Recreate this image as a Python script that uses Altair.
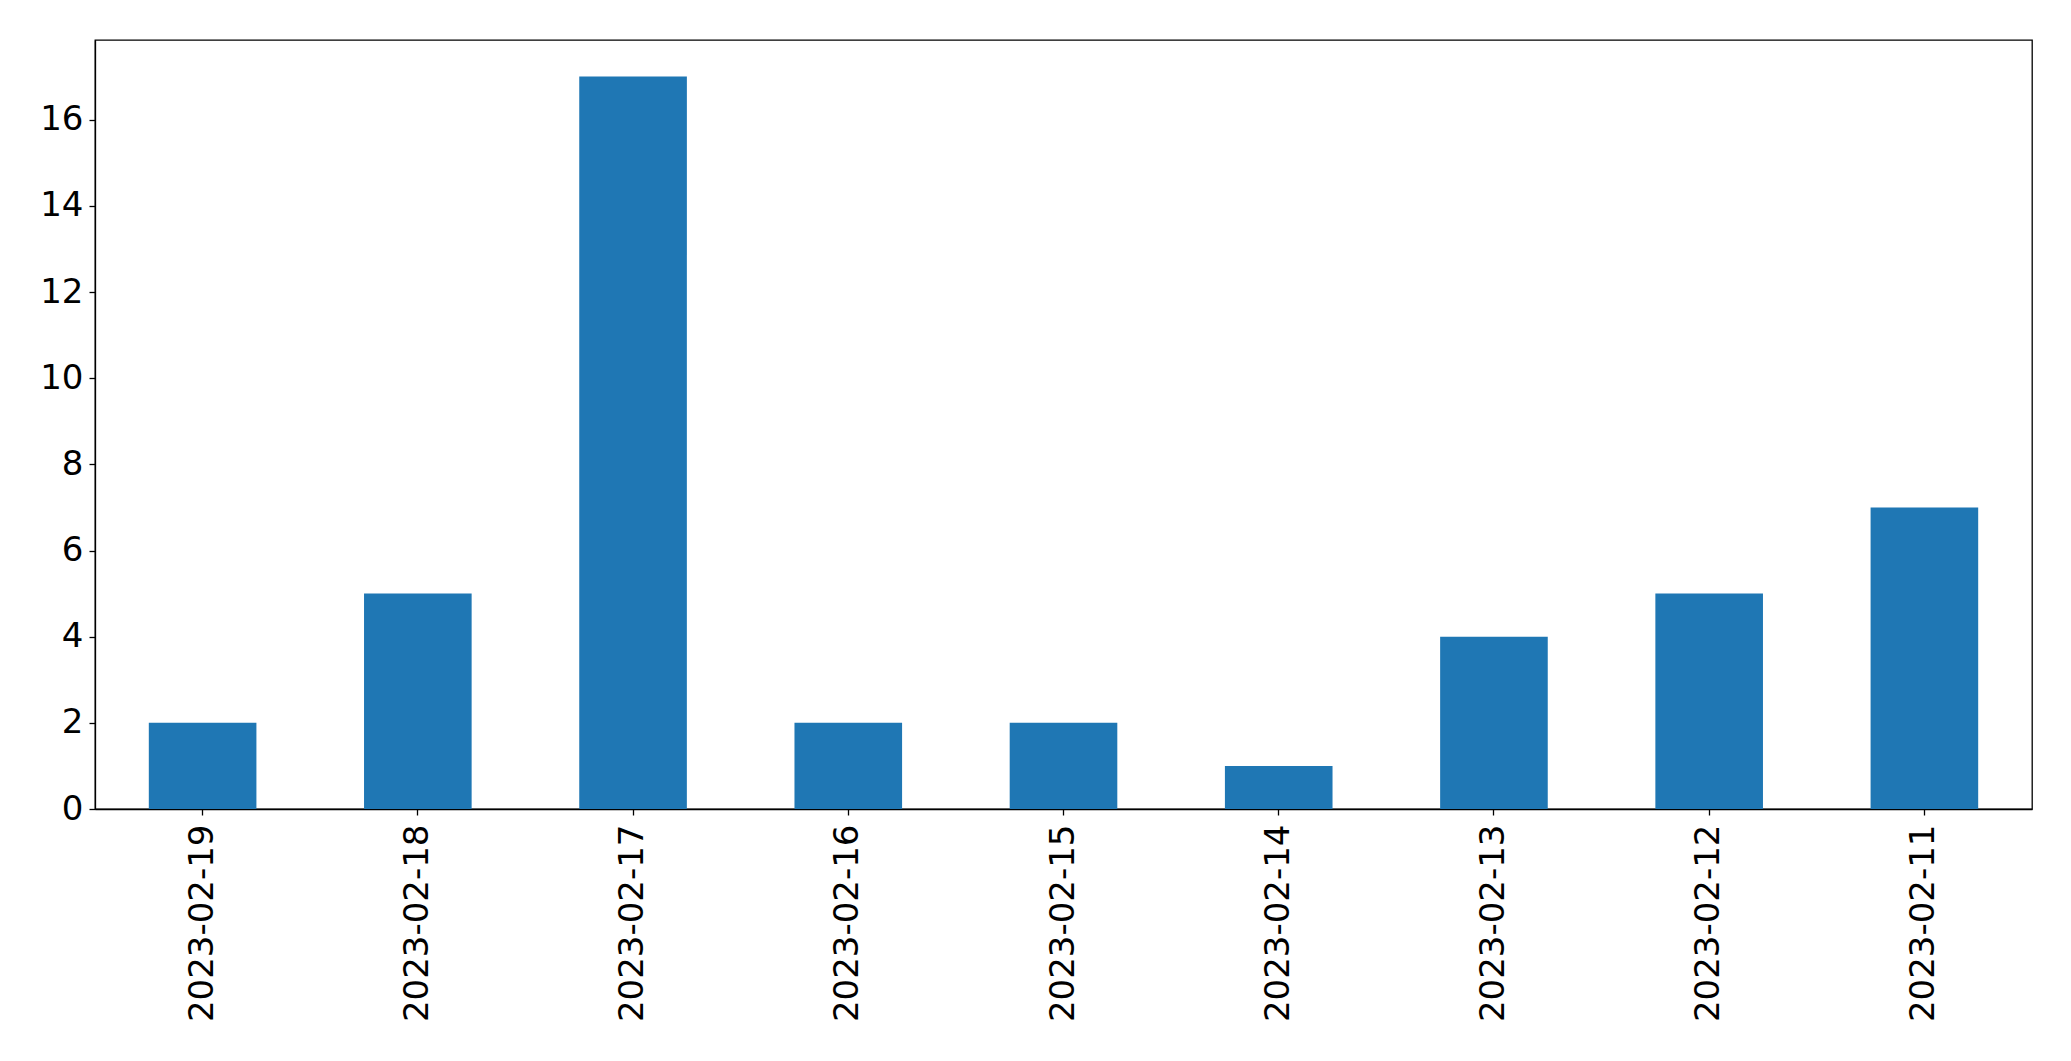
import altair as alt
import pandas as pd

dates = ["2023-02-19", "2023-02-18", "2023-02-17", "2023-02-16", "2023-02-15",
         "2023-02-14", "2023-02-13", "2023-02-12", "2023-02-11"]
counts = [2, 5, 17, 2, 2, 1, 4, 5, 7]
y_ticks = [0, 2, 4, 6, 8, 10, 12, 14, 16]

df = pd.DataFrame({"date": dates, "count": counts})

chart = alt.Chart(df).mark_bar(color="#1f77b4").encode(
    x=alt.X("date:N", sort=dates, title=None,
            scale=alt.Scale(paddingInner=0.5, paddingOuter=0.25),
            axis=alt.Axis(labelAngle=-90, labelFontSize=34, labelFont="DejaVu Sans",
                          labelColor="black", tickColor="black", domainColor="black",
                          tickSize=6, tickWidth=1.3, domainWidth=1.3, labelPadding=9,
                          labelLimit=0)),
    y=alt.Y("count:Q", title=None,
            scale=alt.Scale(domain=[0, 17.85], nice=False),
            axis=alt.Axis(values=y_ticks, grid=False, labelFontSize=34, labelFont="DejaVu Sans",
                          labelColor="black", tickColor="black", domainColor="black",
                          tickSize=6, tickWidth=1.3, domainWidth=1.3, labelPadding=6)),
).properties(
    width=1937, height=769,
    autosize=alt.AutoSizeParams(type="none"),
    padding={"left": 87, "top": 32, "right": 30, "bottom": 240},
).configure_view(stroke="black", strokeWidth=1.3)

chart.save("out.html", embed_options={"renderer": "svg", "actions": False})
